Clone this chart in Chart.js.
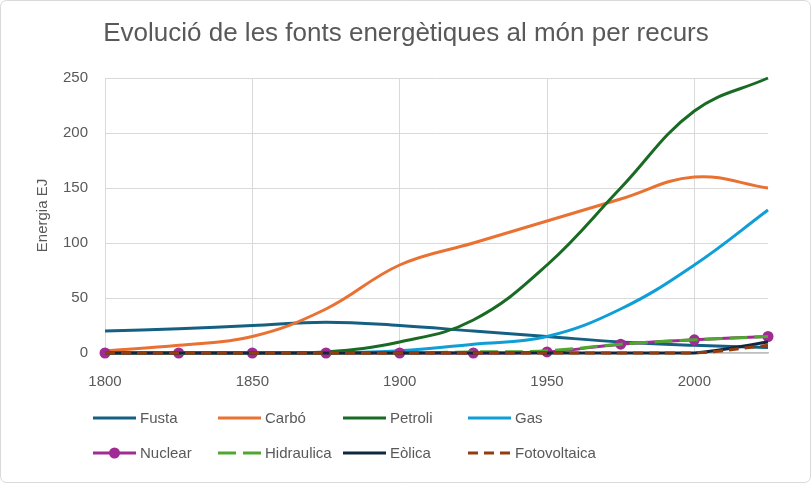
<!DOCTYPE html>
<html>
<head>
<meta charset="utf-8">
<script src="https://cdn.jsdelivr.net/npm/chart.js@4"></script>
<style>
  html, body { margin: 0; padding: 0; background: #fff; }
  #wrap { width: 811px; height: 483px; }
</style>
</head>
<body>
<div id="wrap"><canvas id="myChart" width="811" height="483"></canvas></div>
<script>
    // years on the x axis, one point every 25 years
    const years = [1800, 1825, 1850, 1875, 1900, 1925, 1950, 1975, 2000, 2025];

    // values in EJ
    const fusta        = [20, 22, 25, 28, 25, 20, 15, 10, 7, 5];
    const carbo        = [2, 7, 15, 40, 80, 100, 120, 140, 160, 150];
    const petroli      = [0, 0, 0, 1, 10, 30, 80, 150, 220, 250];
    const gas          = [0, 0, 0, 0, 2, 8, 15, 40, 80, 130];
    const nuclear      = [0, 0, 0, 0, 0, 0, 1, 8, 12, 15];
    const hidraulica   = [0, 0, 0, 0, 0, 1, 2, 8, 12, 15];
    const eolica       = [0, 0, 0, 0, 0, 0, 0, 0, 0, 10];
    const fotovoltaica = [0, 0, 0, 0, 0, 0, 0, 0, 0, 7];

    const xTicks = [1800, 1850, 1900, 1950, 2000];
    const yTicks = [0, 50, 100, 150, 200, 250];

    const seriesNames = ['Fusta', 'Carbó', 'Petroli', 'Gas', 'Nuclear', 'Hidraulica', 'Eòlica', 'Fotovoltaica'];
    const seriesValues = [fusta, carbo, petroli, gas, nuclear, hidraulica, eolica, fotovoltaica];
    const seriesColors = ['#156082', '#E97132', '#196B24', '#0F9ED5', '#A02B93', '#4EA72E', '#0E2841', '#953C0E'];
    const seriesDash = [[], [], [], [], [], [18, 7], [], [10, 6]];

    const chartTitle = 'Evolució de les fonts energètiques al món per recurs';
    const textColor = '#595959';
    const fontFamily = '"Liberation Sans", Arial, sans-serif';

    const datasets = seriesNames.map((name, i) => ({
        label: name,
        data: years.map((y, j) => ({ x: y, y: seriesValues[i][j] })),
        borderColor: seriesColors[i],
        backgroundColor: seriesColors[i],
        borderWidth: 3,
        borderDash: seriesDash[i],
        pointRadius: name === 'Nuclear' ? 5.5 : 0,
        pointBorderWidth: 0,
        pointHoverRadius: 0,
        tension: 0.4,
        fill: false,
        clip: false,
        order: -i   // later series on top, like the original
    }));

    // white background, thin rounded frame and the title
    const frame = {
        id: 'frame',
        beforeDraw(chart) {
            const c = chart.ctx;
            c.save();
            c.fillStyle = '#fff';
            c.fillRect(0, 0, chart.width, chart.height);
            c.strokeStyle = '#d9d9d9';
            c.lineWidth = 1;
            c.beginPath();
            c.roundRect(0.5, 0.5, chart.width - 1, chart.height - 1, 6);
            c.stroke();
            c.font = '26px ' + fontFamily;
            c.fillStyle = textColor;
            c.textAlign = 'center';
            c.textBaseline = 'middle';
            c.fillText(chartTitle, 406, 34);
            c.restore();
        }
    };

    // legend in a 4 x 2 grid below the plot
    const gridLegend = {
        id: 'gridLegend',
        afterDraw(chart) {
            const c = chart.ctx;
            const colX = [93, 218, 343, 468];
            const rowY = [418, 453];
            const lineLen = 43;
            c.save();
            c.font = '15px ' + fontFamily;
            c.textBaseline = 'middle';
            c.fillStyle = textColor;
            chart.data.datasets.forEach((ds, i) => {
                const x = colX[i % 4];
                const y = rowY[Math.floor(i / 4)];
                c.strokeStyle = ds.borderColor;
                c.lineWidth = 3;
                c.setLineDash(ds.borderDash);
                c.beginPath();
                c.moveTo(x, y);
                c.lineTo(x + lineLen, y);
                c.stroke();
                c.setLineDash([]);
                if (ds.pointRadius > 0) {
                    c.fillStyle = ds.borderColor;
                    c.beginPath();
                    c.arc(x + lineLen / 2, y, 5.5, 0, Math.PI * 2);
                    c.fill();
                }
                c.fillStyle = textColor;
                c.fillText(ds.label, x + lineLen + 4, y + 1);
            });
            c.restore();
        }
    };

    const ctx = document.getElementById('myChart');

    let chart = new Chart(ctx, {
        type: 'line',
        data: { datasets: datasets },
        plugins: [frame, gridLegend],
        options: {
            responsive: false,
            animation: false,
            layout: { padding: { left: 0, right: 43, top: 78, bottom: 85 } },
            plugins: {
                legend: { display: false },
                tooltip: { enabled: false },
                title: { display: false }
            },
            scales: {
                x: {
                    type: 'linear',
                    min: 1800,
                    max: 2025,
                    afterBuildTicks: (scale) => {
                        scale.ticks = xTicks.map(v => ({ value: v }));
                    },
                    afterFit: (scale) => { scale.height = 45; },
                    ticks: {
                        color: textColor,
                        font: { family: fontFamily, size: 15 },
                        padding: 20,
                        maxRotation: 0,
                        callback: (v) => String(v)
                    },
                    grid: { color: '#d9d9d9', lineWidth: 1, drawTicks: false },
                    border: { display: true, color: '#bfbfbf', width: 1.5 }
                },
                y: {
                    min: 0,
                    max: 250,
                    afterBuildTicks: (scale) => {
                        scale.ticks = yTicks.map(v => ({ value: v }));
                    },
                    afterFit: (scale) => { scale.width = 105; },
                    ticks: {
                        color: textColor,
                        font: { family: fontFamily, size: 15 },
                        padding: 17
                    },
                    grid: { color: '#d9d9d9', lineWidth: 1, drawTicks: false },
                    border: { display: false },
                    title: {
                        display: true,
                        text: 'Energia EJ',
                        color: textColor,
                        font: { family: fontFamily, size: 15 },
                        padding: { top: 34, bottom: 0 }
                    }
                }
            }
        }
    });
</script>
</body>
</html>
